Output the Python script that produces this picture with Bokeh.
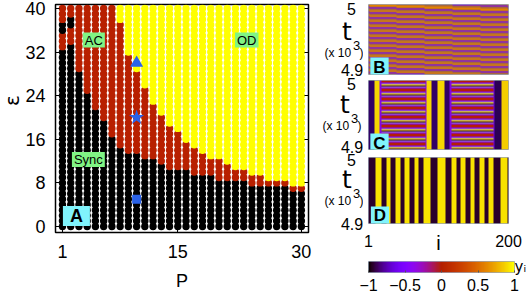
import numpy as np
from bokeh.embed import file_html
from bokeh.resources import INLINE
from bokeh.plotting import figure
from bokeh.layouts import row, column
from bokeh.models import Label, LinearAxis, FixedTicker, LinearColorMapper, Range1d

# ---------- data ----------
P_ticks = [1, 15, 30]
eps_ticks = [0, 8, 16, 24, 32, 40]
# highest epsilon of the Sync (black) region for P = 1..30
sync_top = [32, 33, 28, 24, 21, 19, 16, 14, 13, 13, 12, 12, 11, 10, 10, 10, 9, 9, 9, 8, 8, 8, 8, 7, 7, 7, 7, 7, 6, 6]
# highest epsilon of the AC (red) region for P = 1..30
ac_top = [40, 40, 40, 40, 40, 40, 40, 37, 31, 28, 25, 22, 20, 18, 17, 15, 14, 13, 12, 12, 11, 10, 10, 9, 9, 8, 8, 8, 7, 7]
# extra red cells and black islands in the first two columns
red_p1 = [33, 34, 35, 38, 39, 40]
black_p1 = [36, 37]
red_p2 = [34, 35, 36, 39, 40]
black_p2 = [37, 38]
probe_P = [10, 10, 10]
probe_eps = [30, 20, 5]
probe_marker = ["triangle", "star", "square"]
probe_size = [13, 16, 9]

# panel D: alternating dark / yellow stripes, edges in i
d_edges = [1, 10.5, 20, 26.6, 33, 40, 46.5, 52.6, 60, 66.4, 72.5, 80, 89, 99.5, 110.5, 119.5,
           126.6, 132.7, 139.4, 146, 152.6, 159.3, 166, 172, 179, 188.6, 200]
d_levels = [-0.94, 0.92]
# panel C: column zones (upper edge in i, mean, amplitude of the row pattern)
c_zone_end = [9, 16.6, 18.5, 81, 83, 90, 99.7, 108, 115.7, 118, 178, 180, 190, 200]
c_zone_mean = [-0.85, 0.88, -0.45, 0.0, -0.45, 0.88, -0.85, 0.88, -0.85, -0.45, 0.0, -0.6, -0.88, 0.85]
c_zone_amp = [0.15, 0.1, 0.15, 1.0, 0.15, 0.1, 0.15, 0.1, 0.15, 0.15, 1.0, 0.15, 0.12, 0.12]
MUD = 2.0  # above the scale: the blurred in-between tone of the picture
c_rows = [0.02, -0.02, -0.48, MUD, 0.92, -0.92, MUD, -0.48, -0.02]
# panel B: row cycle of the slanted lines
b_rows = [0.6, MUD, -0.55, MUD, MUD]
b_rows_per_i = 5 / 199

cbar_ticks = [-1, -0.5, 0, 0.5, 1]
cbar_labels = ["\u22121", "\u22120.5", "0", "0.5", "1"]

# ---------- palette (gnuplot rgbformulae 7,5,15) ----------
u = np.linspace(0, 1, 256)
palette = ["#%02x%02x%02x" % (int(255 * np.sqrt(a)), int(255 * a ** 3), int(255 * max(np.sin(2 * np.pi * a), 0))) for a in u]
mapper = LinearColorMapper(palette=palette, low=-1, high=1)
mapper_b = LinearColorMapper(palette=palette, low=-1, high=1, high_color="#a8663c")
mapper_c = LinearColorMapper(palette=palette, low=-1, high=1, high_color="#a07ca8")

FONT = "Liberation Sans"
BLACK, RED, YELLOW = "#000000", "#b82000", "#ffff00"
GREEN, CYAN = "#80f484", "#80f4fc"
BLUE = "#2a62e8"

# ---------- narrow strip holding the rotated epsilon ----------
strip0 = figure(width=22, height=294, output_backend="svg", toolbar_location=None,
                x_range=Range1d(0, 22), y_range=Range1d(294, 0),
                x_axis_type=None, y_axis_type=None, outline_line_color=None,
                min_border_left=0, min_border_right=0, min_border_top=0, min_border_bottom=0)
strip0.grid.visible = False
strip0.add_layout(Label(x=11, y=124, text="\u03b5", angle=np.pi / 2, text_align="center", text_baseline="middle",
                        text_font="DejaVu Sans", text_font_size="20px", text_line_height=0.8, text_color="#000000"))

# ---------- main map ----------
xs, ys, cs = [], [], []
for k, P in enumerate(range(1, 31)):
    for e in range(0, 41):
        if e <= sync_top[k]:
            c = BLACK
        elif e <= ac_top[k]:
            c = RED
        else:
            c = YELLOW
        if P == 1:
            c = RED if e in red_p1 else BLACK if e in black_p1 else c
        if P == 2:
            c = RED if e in red_p2 else BLACK if e in black_p2 else c
        xs.append(P); ys.append(e); cs.append(c)

sx = 8.27
sy = 5.45
p = figure(width=296, height=294, output_backend="svg", toolbar_location=None,
           x_range=Range1d(1 - 7 / sx, 1 - 7 / sx + 254 / sx),
           y_range=Range1d(-6 / sy, -6 / sy + 228 / sy),
           min_border_left=32, min_border_right=10, min_border_top=4, min_border_bottom=62)
p.grid.visible = False
p.outline_line_color = "#000000"
p.outline_line_width = 1.5
p.scatter(xs, ys, size=7.4, color=cs, line_color=None)
for a, b, m, s in zip(probe_P, probe_eps, probe_marker, probe_size):
    p.scatter([a], [b], marker=m, size=s, color=BLUE, line_color=None)

for ax in (p.xaxis[0], p.yaxis[0]):
    ax.major_tick_in = 4
    ax.major_tick_out = 0
    ax.minor_tick_line_color = None
    ax.axis_line_color = None
    ax.major_label_text_font = FONT
    ax.major_label_text_font_size = "18px"
    ax.major_label_text_color = "#000000"
    ax.axis_label_text_font = FONT
    ax.axis_label_text_font_style = "normal"
    ax.axis_label_text_color = "#000000"
p.xaxis[0].ticker = FixedTicker(ticks=P_ticks)
p.yaxis[0].ticker = FixedTicker(ticks=eps_ticks)
p.xaxis[0].major_label_standoff = 12
p.yaxis[0].major_label_standoff = 10
p.xaxis[0].axis_label = "P"
p.xaxis[0].axis_label_text_font_size = "18px"
p.xaxis[0].axis_label_standoff = 10

r_ax = LinearAxis(ticker=FixedTicker(ticks=eps_ticks), major_tick_in=4, major_tick_out=0,
                  minor_tick_line_color=None, axis_line_color=None,
                  major_label_overrides={t: "" for t in eps_ticks})
p.add_layout(r_ax, "right")


def mx(px):
    return 1 + (px - 61) / sx


def my(py):
    return (226 - py) / sy


def boxed(text, px, py, fill, size, bold=False, pad=(2, 0), lh=1.0):
    p.add_layout(Label(x=mx(px), y=my(py), text=text, text_align="center", text_baseline="middle",
                       text_font=FONT, text_font_size=size, text_color="#000000", text_line_height=lh,
                       text_font_style="bold" if bold else "normal",
                       background_fill_color=fill, padding=pad))


boxed("AC", 92.5, 39.5, GREEN, "13px")
boxed("OD", 246, 39.5, GREEN, "13px")
boxed("Sync", 87, 159, GREEN, "13px")
boxed("A", 75, 215.5, CYAN, "18px", bold=True, pad=(7, 0), lh=0.95)

# ---------- text strip left of the panels ----------
strip = figure(width=45, height=256, output_backend="svg", toolbar_location=None,
               x_range=Range1d(318, 363), y_range=Range1d(256, 0),
               x_axis_type=None, y_axis_type=None, outline_line_color=None,
               min_border_left=0, min_border_right=0, min_border_top=0, min_border_bottom=0)
strip.grid.visible = False


def put(text, x, y, size, align="left", font=FONT):
    strip.add_layout(Label(x=x, y=y, text=text, text_align=align, text_baseline="middle",
                           text_font=font, text_font_size=size, text_color="#000000"))


def panel(fig_top, fig_bot, f_top, f_bot, t5, t49, tag_py, dx):
    k = (t49 - t5) / 0.1
    y0 = 4.9 - (f_bot - t49) / k
    y1 = 5 + (t5 - f_top) / k
    fig = figure(width=166, height=fig_bot - fig_top, output_backend="svg", toolbar_location=None,
                 x_range=Range1d(1, 200), y_range=Range1d(y0, y1),
                 min_border_left=5, min_border_right=21, min_border_top=f_top - fig_top,
                 min_border_bottom=fig_bot - f_bot)
    fig.grid.visible = False
    fig.outline_line_color = "#9aa5b8"
    fig.outline_line_width = 1
    fig.yaxis[0].visible = False
    fig.xaxis[0].visible = False
    put("5", 351, t5, "16px", "center")
    put("4.9", 351.5, t49, "16px", "center")
    put("t", 346.5 + dx, tag_py - 21, "25px", "center", "DejaVu Sans")
    put("(x 10", 324 + dx, tag_py, "12px")
    put("3", 356 + dx, tag_py - 7, "13px", "center")
    put(")", 359 + dx, tag_py, "12px")
    return fig, y0, y1, k


def tag_label(fig, k, t5, text, x, y):
    fig.add_layout(Label(x=1 + (x - 368) * 199 / 140, y=5 - (y - t5) / k, text=text,
                         text_align="center", text_baseline="middle", text_line_height=0.8,
                         text_font=FONT, text_font_size="17px", text_font_style="bold",
                         text_color="#000000", background_fill_color=CYAN, padding=(3, 0)))


n_c = 200
# panel B
pB, b0, b1, kb = panel(0, 77, 4, 74, 8, 69, 52, 0)
n_r = 70
img_b = np.zeros((n_r, n_c))
for j in range(n_c):
    for r in range(n_r):
        img_b[n_r - 1 - r, j] = b_rows[int(r - j * b_rows_per_i) % len(b_rows)]
pB.image(image=[img_b], x=1, y=b0, dw=199, dh=b1 - b0, color_mapper=mapper_b)
tag_label(pB, kb, 8, "B", 379, 66.5)

# panel C
pC, c0, c1, kc = panel(77, 153, 80, 149, 83, 146, 125, -2)
n_r = 69
img_c = np.zeros((n_r, n_c))
for j in range(n_c):
    zone = min(int(np.searchsorted(c_zone_end, j + 1)), len(c_zone_end) - 1)
    for r in range(n_r):
        if c_zone_amp[zone] < 0.5:
            img_c[n_r - 1 - r, j] = c_zone_mean[zone] + c_zone_amp[zone] * (1.0 if r % 2 else -1.0)
        else:
            img_c[n_r - 1 - r, j] = c_rows[r % len(c_rows)]
pC.image(image=[img_c], x=1, y=c0, dw=199, dh=c1 - c0, color_mapper=mapper_c)
tag_label(pC, kc, 83, "C", 379, 142.5)

# panel D
pD, d0, d1, kd = panel(153, 256, 157, 227, 159, 223, 200, 0)
img_d = np.zeros((1, n_c))
for j in range(n_c):
    s = int(np.searchsorted(d_edges, j + 1.5)) - 1
    img_d[0, j] = d_levels[max(s, 0) % 2]
pD.image(image=[img_d], x=1, y=d0, dw=199, dh=d1 - d0, color_mapper=mapper)
tag_label(pD, kd, 159, "D", 379.5, 219)
xa = pD.xaxis[0]
xa.visible = True
xa.ticker = FixedTicker(ticks=[1, 200])
xa.major_tick_line_color = None
xa.minor_tick_line_color = None
xa.axis_line_color = None
xa.major_label_text_font = FONT
xa.major_label_text_font_size = "16px"
xa.major_label_text_color = "#000000"
xa.major_label_standoff = 5
xa.axis_label = "i"
xa.axis_label_text_font = FONT
xa.axis_label_text_font_style = "normal"
xa.axis_label_text_font_size = "20px"
xa.axis_label_text_color = "#000000"
xa.axis_label_standoff = -18

# colour bar
pCB = figure(width=211, height=38, output_backend="svg", toolbar_location=None,
             x_range=Range1d(-1, 1), y_range=Range1d(0, 1),
             min_border_left=50, min_border_right=15, min_border_top=5, min_border_bottom=22)
pCB.grid.visible = False
pCB.outline_line_color = "#9aa5b8"
pCB.yaxis[0].visible = False
pCB.image(image=[np.linspace(-1, 1, 256).reshape(1, 256)], x=-1, y=0, dw=2, dh=1, color_mapper=mapper)
a = pCB.xaxis[0]
a.ticker = FixedTicker(ticks=cbar_ticks)
a.major_label_overrides = dict(zip(cbar_ticks, cbar_labels))
a.major_tick_in = 2
a.major_tick_out = 0
a.major_tick_line_color = "#555555"
a.minor_tick_line_color = None
a.axis_line_color = None
a.major_label_text_font = FONT
a.major_label_text_font_size = "16px"
a.major_label_text_color = "#000000"
a.major_label_standoff = 6
yi_axis = LinearAxis(ticker=FixedTicker(ticks=[]), major_tick_line_color=None, minor_tick_line_color=None,
                     axis_line_color=None, axis_label="y\u1d62", axis_label_text_font="DejaVu Sans",
                     axis_label_text_font_style="normal", axis_label_text_font_size="15px",
                     axis_label_text_color="#000000", axis_label_standoff=0,
                     axis_label_orientation="horizontal")
pCB.add_layout(yi_axis, "right")

layout = row(strip0, p, column(row(strip, column(pB, pC, pD, spacing=0), spacing=0), pCB, spacing=0), spacing=0)
open("out.html", "w").write(file_html(layout, INLINE))
